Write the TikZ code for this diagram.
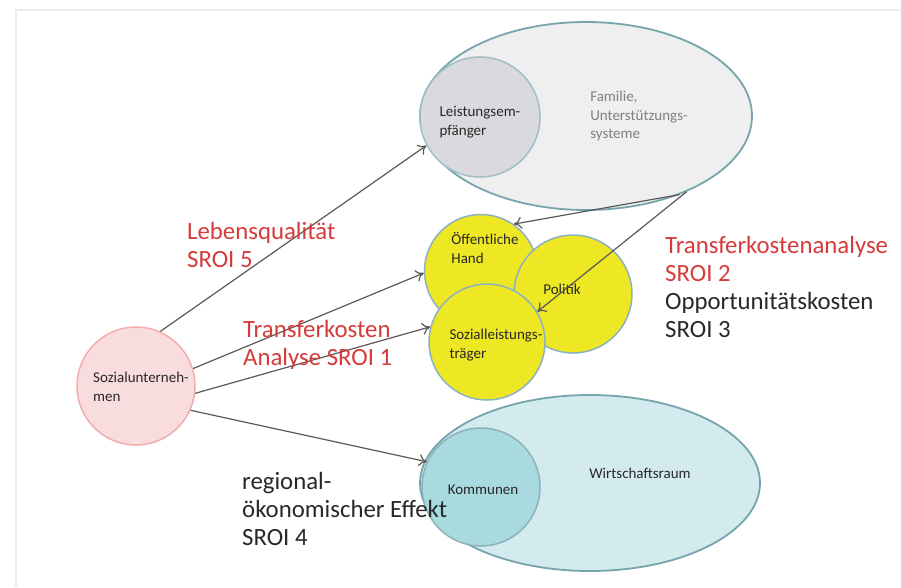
\documentclass[tikz,border=0pt]{standalone}
\usepackage{fontspec}
\setmainfont{Carlito}
\usetikzlibrary{arrows,arrows.meta}
\usetikzlibrary{shapes.geometric}

\definecolor{srred}{RGB}{214,58,58}
\definecolor{srtext}{RGB}{40,40,40}
\definecolor{srgrayfill}{RGB}{239,239,240}
\definecolor{srgraycirc}{RGB}{218,218,222}
\definecolor{srteal}{RGB}{118,164,172}
\definecolor{srtealfill}{RGB}{211,235,239}
\definecolor{srtealcirc}{RGB}{168,218,223}
\definecolor{sryellow}{RGB}{238,231,36}
\definecolor{srblue}{RGB}{140,178,194}
\definecolor{srpink}{RGB}{249,221,222}
\definecolor{srpinkline}{RGB}{242,172,174}

\begin{document}
\begin{tikzpicture}[x=1pt,y=-1pt,
		small/.style={font=\fontsize{15}{18.5}\selectfont,text=srtext,align=left,inner sep=0},
		big/.style={font=\fontsize{24.8}{28}\selectfont,align=left,inner sep=0,anchor=north west},
		circ/.style={circle,inner sep=0,minimum size=#1,line width=1.5pt},
		oval/.style={ellipse,inner sep=0,line width=1.8pt,draw=srteal},
		arr/.style={-{To[length=8pt,width=12pt]},draw=black!65,line width=1.2pt}]
	\useasboundingbox (0,0) rectangle (901,587);
	\draw[black!7,line width=1.5pt] (901,10) -- (16,10) -- (16,587);

	% Familie / Leistungsempfaenger
	\node[oval,fill=srgrayfill,minimum width=332,minimum height=188] (FA) at (586,116) {};
	\node[circ=120,draw=srteal!70,fill=srgraycirc] (LE) at (480,117) {};
	\node[small] (LEt) at (480,122) {Leistungsem-\\pfänger};
	\node[small,text=black!50] (FAt) at (639,116) {Familie,\\Unterstützungs-\\systeme};

	% Wirtschaftsraum / Kommunen
	\node[oval,fill=srtealfill,minimum width=340,minimum height=176] (WR) at (590,483) {};
	\node[circ=118,draw=srteal!85,fill=srtealcirc] (KO) at (481,487) {};
	\node[small] (KOt) at (483,490) {Kommunen};
	\node[small] (WRt) at (640,473) {Wirtschaftsraum};

	% oeffentliche Hand, Politik, Traeger
	\node[circ=113,draw=srblue,fill=sryellow] (OH) at (481,271) {};
	\node[circ=118,draw=srblue,fill=sryellow] (PO) at (573,294) {};
	\node[circ=116,draw=srblue,fill=sryellow] (ST) at (487,342) {};
	\node[small] (OHt) at (485,248) {Öffentliche\\ Hand};
	\node[small] (POt) at (562,289) {Politik};
	\node[small] (STt) at (496,345) {Sozialleistungs-\\träger};

	% Sozialunternehmen
	\node[circ=118,draw=srpinkline,fill=srpink] (SU) at (136,386) {};
	\node[small] (SUt) at (141,387) {Sozialunterneh-\\men};

	\draw[arr] (SU.66) -- (LE.208);
	\draw[arr] (SU.17) -- (OH.182);
	\draw[arr] (SU.-7) -- (ST.165);
	\draw[arr] (SU.-24) -- (KO.155);
	\draw[arr] (FA.-40.6) -- (OH.55);
	\draw[arr] (FA.-37) -- (ST.31);

	% SROI
	\node[big,text=srred] (L5) at (187,222) {Lebensqualität\\SROI 5};
	\node[big,text=srred] (L1) at (243,320) {Transferkosten\\Analyse SROI 1};
	\node[big,text=srtext] (L23) at (665,236) {\textcolor{srred}{Transferkostenanalyse}\\\textcolor{srred}{SROI 2}\\Opportunitätskosten\\SROI 3};
	\node[big,text=srtext] (L4) at (242,472) {regional-\\ökonomischer Effekt\\SROI 4};
\end{tikzpicture}
\end{document}
